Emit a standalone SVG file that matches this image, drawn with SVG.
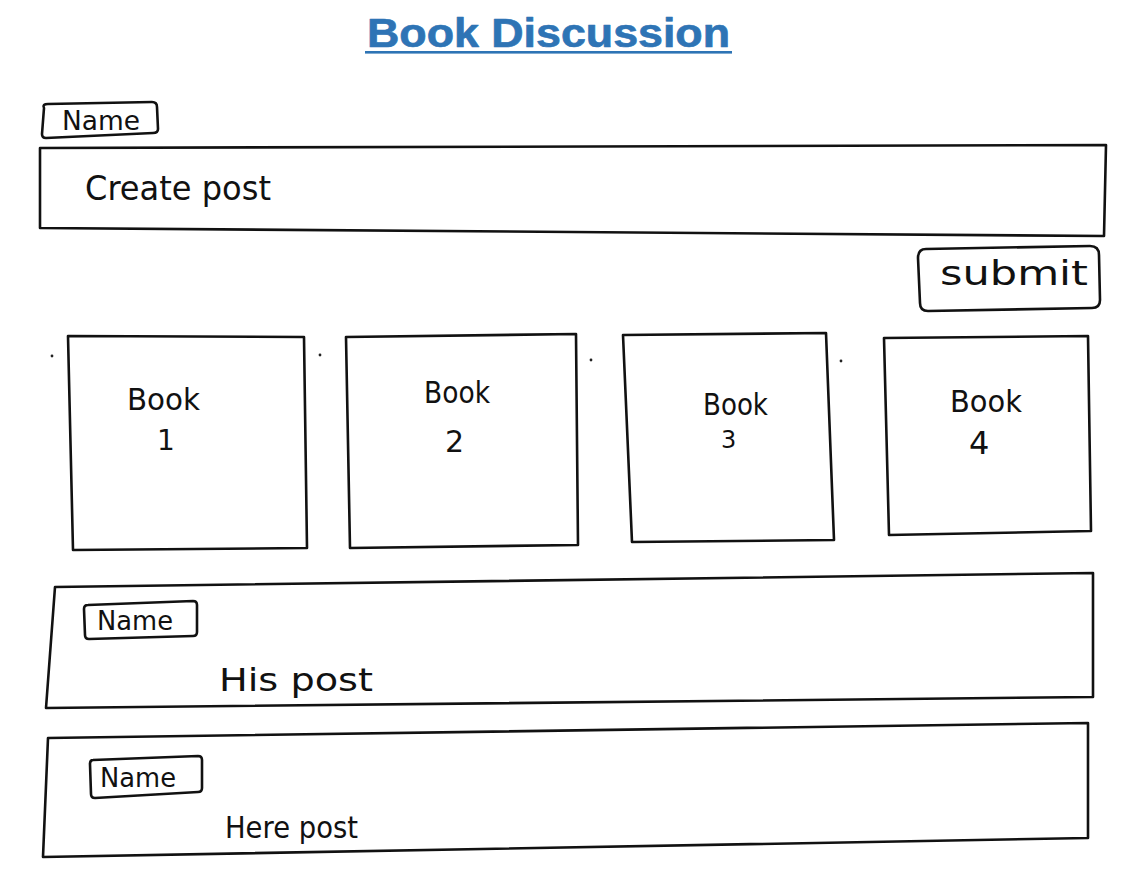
<svg xmlns="http://www.w3.org/2000/svg" width="1128" height="886" viewBox="0 0 1128 886">
  <style>
    .frame { fill: none; stroke: #111; stroke-width: 2.6; stroke-linejoin: round; stroke-linecap: round; }
    .hand { font-family: "DejaVu Sans", "Liberation Sans", sans-serif; fill: #111; }
    .title { font-family: "Liberation Sans", Arial, sans-serif; font-weight: 900; fill: #2E74B5; stroke: #2E74B5; stroke-width: 0.7; stroke-linejoin: round; }
    .speck { fill: #222; }
  </style>
  <rect width="1128" height="886" fill="#fff"/>

  <!-- Page title -->
  <g id="title">
    <text class="title" x="367" y="47" font-size="41" textLength="363" lengthAdjust="spacingAndGlyphs">Book Discussion</text>
    <rect x="365" y="51" width="367" height="2.6" fill="#2E74B5"/>
  </g>

  <!-- Author tag above the composer -->
  <g id="composer-name">
    <path class="frame" d="M44,108 Q42,104 48,104 L152,102 Q157,102 157,107 L158,129 Q158,133 153,133 L46,138 Q42,138 42,134 Z"/>
    <text class="hand" x="62" y="130" font-size="27" textLength="78" lengthAdjust="spacingAndGlyphs">Name</text>
  </g>

  <!-- Post composer -->
  <g id="create-post">
    <path class="frame" d="M40,148 L1106,145 L1104,236 L40,228 Z"/>
    <text class="hand" x="85" y="200" font-size="33" textLength="186" lengthAdjust="spacingAndGlyphs">Create post</text>
  </g>

  <!-- Submit button -->
  <g id="submit">
    <path class="frame" d="M926,249 L1090,246 Q1099,246 1099,255 L1100,300 Q1100,308 1092,308 L928,311 Q920,311 920,303 L918,258 Q918,249 926,249 Z"/>
    <text class="hand" x="940" y="285" font-size="33" textLength="148" lengthAdjust="spacingAndGlyphs">submit</text>
  </g>

  <!-- Book cards -->
  <g id="book-1">
    <path class="frame" d="M68,336 L304,337 L307,548 L73,550 Z"/>
    <text class="hand" x="127" y="410" font-size="30" textLength="73" lengthAdjust="spacingAndGlyphs">Book</text>
    <text class="hand" x="157" y="450" font-size="28">1</text>
  </g>
  <g id="book-2">
    <path class="frame" d="M346,337 L576,334 L578,545 L350,548 Z"/>
    <text class="hand" x="424" y="403" font-size="30" textLength="66" lengthAdjust="spacingAndGlyphs">Book</text>
    <text class="hand" x="445" y="452" font-size="30">2</text>
  </g>
  <g id="book-3">
    <path class="frame" d="M623,335 L826,333 L834,540 L632,542 Z"/>
    <text class="hand" x="703" y="415" font-size="30" textLength="65" lengthAdjust="spacingAndGlyphs">Book</text>
    <text class="hand" x="721" y="448" font-size="24">3</text>
  </g>
  <g id="book-4">
    <path class="frame" d="M884,338 L1088,336 L1091,531 L889,535 Z"/>
    <text class="hand" x="950" y="412" font-size="30" textLength="72" lengthAdjust="spacingAndGlyphs">Book</text>
    <text class="hand" x="969" y="454" font-size="32">4</text>
  </g>

  <!-- Stray pen marks between the cards -->
  <g id="marks">
    <circle class="speck" cx="52" cy="356" r="1.4"/>
    <circle class="speck" cx="320" cy="355" r="1.4"/>
    <circle class="speck" cx="591" cy="360" r="1.4"/>
    <circle class="speck" cx="841" cy="361" r="1.4"/>
  </g>

  <!-- First feed post -->
  <g id="post-1">
    <path class="frame" d="M55,587 L1093,573 L1093,697 L46,708 Z"/>
    <path class="frame" d="M88,605 L193,601 Q197,601 197,605 L197,632 Q197,636 193,636 L89,639 Q85,639 85,635 L84,609 Q84,605 88,605 Z"/>
    <text class="hand" x="97" y="630" font-size="26" textLength="76" lengthAdjust="spacingAndGlyphs">Name</text>
    <text class="hand" x="219" y="691" font-size="32" textLength="154" lengthAdjust="spacingAndGlyphs">His post</text>
  </g>

  <!-- Second feed post -->
  <g id="post-2">
    <path class="frame" d="M48,738 L1088,723 L1088,838 L43,857 Z"/>
    <path class="frame" d="M93,760 L198,756 Q202,756 202,760 L202,788 Q202,792 198,792 L95,798 Q91,798 91,794 L90,764 Q90,760 93,760 Z"/>
    <text class="hand" x="100" y="787" font-size="26" textLength="76" lengthAdjust="spacingAndGlyphs">Name</text>
    <text class="hand" x="225" y="838" font-size="30" textLength="133" lengthAdjust="spacingAndGlyphs">Here post</text>
  </g>

  <!-- No connectors in this layout -->
  <g id="connectors"/>
</svg>
